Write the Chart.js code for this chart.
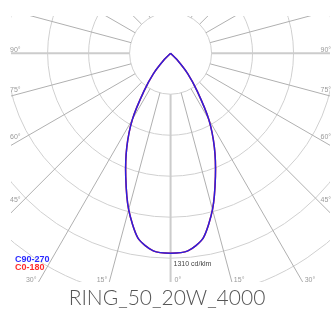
<!DOCTYPE html>
<html>
<head>
<meta charset="utf-8">
<script src="https://cdn.jsdelivr.net/npm/chart.js@4"></script>
<style>
body{margin:0;background:#fff;}
canvas{display:block;}
</style>
</head>
<body>
<canvas id="polarChart" width="331" height="309"></canvas>
<script>
// gamma angles (deg), 0 = straight down
const gammaAngles = [-90,-85,-80,-75,-70,-65,-60,-55,-50,-45,-40,-35,-30,-25,-20,-15,-10,-5,0,
5,10,15,20,25,30,35,40,45,50,55,60,65,70,75,80,85,90];

// luminous intensity cd/klm
const c90_270 = [0,0,0,0,0,0,0,0,0,55,170,298,488,662,838,1035,1200,1268,1278,
1268,1200,1035,838,662,488,298,170,55,0,0,0,0,0,0,0,0,0];
const c0_180 = [0,0,0,0,0,0,0,0,0,55,170,298,488,662,838,1035,1200,1268,1278,
1268,1200,1035,838,662,488,298,170,55,0,0,0,0,0,0,0,0,0];

const ringStep = 262;
const ringValues = [262,524,786,1048,1310,1572,1834,2096];
const spokeAngles = [0,15,30,45,60,75,90,105,120,135,150,165,180,195,210,225,240,255,270,285,300,315,330,345];
const labelAngles = [0,15,30,45,60,75,90];
const chartTitle = "RING_50_20W_4000";
const scaleLabel = "1310 cd/klm";


function toPoints(vals){
let pts = [];
gammaAngles.forEach((g, i) => {
let a = g * Math.PI / 180;
pts.push({x: vals[i] * Math.sin(a), y: -vals[i] * Math.cos(a)});
});
return pts;
}


// grid: rings + spokes, drawn behind the curves
const polarGrid = {
id: 'polarGrid',
beforeDatasetsDraw(chart){
const ctx = chart.ctx;
const xs = chart.scales.x, ys = chart.scales.y;
const area = chart.chartArea;
const cx = xs.getPixelForValue(0), cy = ys.getPixelForValue(0);
const k = xs.getPixelForValue(1000) - cx;   // px per 1000 units
ctx.save();
ctx.beginPath();
ctx.rect(area.left, area.top, area.right - area.left, area.bottom - area.top);
ctx.clip();

ctx.strokeStyle = '#d0d0d0';
ctx.lineWidth = 1;
ringValues.forEach(v => {
ctx.beginPath();
ctx.arc(cx, cy, v * k / 1000, 0, Math.PI * 2);
ctx.stroke();
});

spokeAngles.forEach(d => {
let a = d * Math.PI / 180;
let r0 = ringStep * k / 1000, r1 = 5000 * k / 1000;
let main = (d % 90 === 0);
ctx.strokeStyle = main ? '#cccccc' : '#b0b0b0';
ctx.lineWidth = main ? 2 : 1;
ctx.beginPath();
ctx.moveTo(cx + Math.sin(a) * r0, cy + Math.cos(a) * r0);
ctx.lineTo(cx + Math.sin(a) * r1, cy + Math.cos(a) * r1);
ctx.stroke();
});
ctx.restore();
},
afterDraw(chart){
const ctx = chart.ctx;
const xs = chart.scales.x, ys = chart.scales.y;
const area = chart.chartArea;
const cx = xs.getPixelForValue(0), cy = ys.getPixelForValue(0);
const k = xs.getPixelForValue(1000) - cx;
ctx.save();

// angle labels
ctx.font = '7px "Liberation Sans", Arial, sans-serif';
ctx.fillStyle = '#9a9a9a';
const half = 150;
labelAngles.forEach(d => {
[-1, 1].forEach(s => {
if(d === 0 && s === -1) return;
let a = d * Math.PI / 180;
let sx = Math.sin(a), cyd = Math.cos(a);
let tx = sx > 0.001 ? half / sx : Infinity;
let ty = cyd > 0.001 ? (area.bottom - cy) / cyd : Infinity;
if(tx < ty){
let y = cy + cyd * tx;
ctx.textAlign = s < 0 ? 'right' : 'left';
ctx.fillText(d + '°', cx + s * half, y - 1);
} else {
let x = cx + s * sx * ty;
ctx.textAlign = s < 0 ? 'right' : 'left';
ctx.fillText(d + '°', x + s * 2 + (d === 0 ? 2 : 0), area.bottom);
}
});
});

// scale value below ring 5
ctx.textAlign = 'left';
ctx.fillStyle = '#444';
ctx.font = '7px "Liberation Sans", Arial, sans-serif';
ctx.fillText(scaleLabel, cx + 3, cy + 1310 * k / 1000 + 7.5);

// legend
ctx.font = 'bold 9px "Liberation Sans", Arial, sans-serif';
ctx.fillStyle = '#2b2bff';
ctx.fillText('C90-270', 15, 262);
ctx.fillStyle = '#ff2b2b';
ctx.fillText('C0-180', 15, 270);

// title
ctx.textAlign = 'center';
ctx.fillStyle = '#555';
ctx.font = '300 21px Lato, sans-serif';
ctx.fillText(chartTitle, 167, 305);
ctx.restore();
}
};


// first dataset is painted last (on top)
new Chart(document.getElementById('polarChart'), {
type: 'scatter',
data: {
datasets: [{
label: 'C90-270',
data: toPoints(c90_270),
showLine: true,
borderColor: '#2a1fe0',
borderWidth: 1.5,
pointRadius: 0,
tension: 0.25
},{
label: 'C0-180',
data: toPoints(c0_180),
showLine: true,
borderColor: '#ff2020',
borderWidth: 1.5,
pointRadius: 0,
tension: 0.25
}]
},
options: {
responsive: false,
animation: false,
layout: {padding: {left: 11, right: 1, top: 16, bottom: 27}},
plugins: {legend: {display: false}, tooltip: {enabled: false}, title: {display: false}},
scales: {
x: {type: 'linear', min: -1020, max: 1019, display: false},
y: {type: 'linear', min: -1462, max: 238, display: false}
}
},
plugins: [polarGrid]
});
</script>
</body>
</html>
